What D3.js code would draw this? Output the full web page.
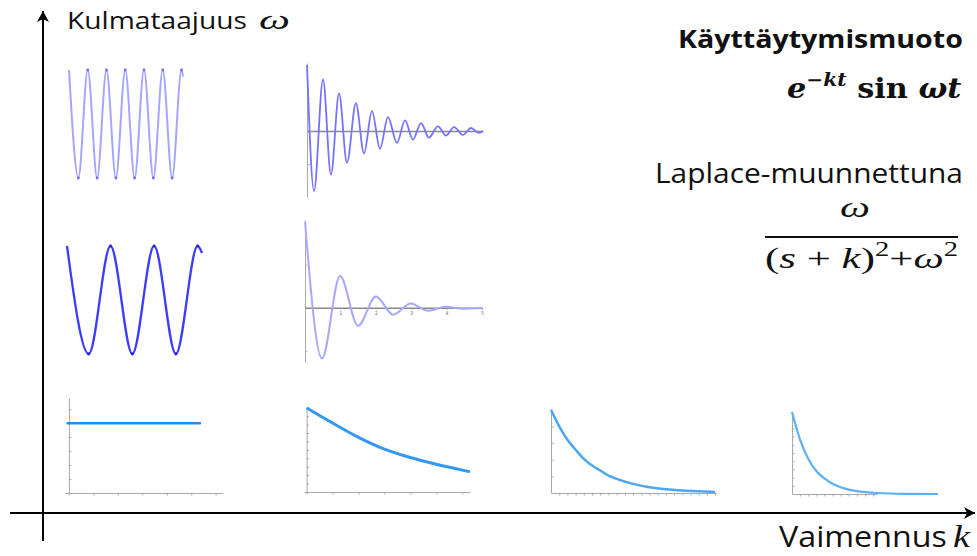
<!DOCTYPE html>
<html>
<head>
<meta charset="utf-8">
<script src="https://cdn.jsdelivr.net/npm/d3@7"></script>
<style>
  body { margin: 0; background: #fff; }
</style>
</head>
<body>
<div id="chart"></div>
<script>
// values (time, value)
// top row: fast oscillation, undamped and damped
var fastSineT = [0, 0.5, 1, 1.5, 2, 2.5, 3, 3.5, 4, 4.5, 5, 5.5, 6, 6.08];
var fastSineV = [1, -1, 1, -1, 1, -1, 1, -1, 1, -1, 1, -1, 1, 0.88];
var fastDampT = [0, 0.40, 0.91, 1.36, 1.82, 2.27, 2.78, 3.24, 3.69, 4.15, 4.60, 5.11, 5.57, 6.02, 6.48, 6.93, 7.44, 7.90, 8.35, 8.86, 9.32, 9.77, 10];
var fastDampV = [1.0, -0.91, 0.78, -0.66, 0.57, -0.48, 0.42, -0.34, 0.30, -0.27, 0.21, -0.18, 0.16, -0.13, 0.12, -0.10, 0.07, -0.07, 0.06, -0.06, 0.045, -0.03, 0];

// middle row: slow oscillation, undamped and damped
var slowSineT = [0, 0.5, 1, 1.5, 2, 2.5, 3, 3.1];
var slowSineV = [1, -1, 1, -1, 1, -1, 1, 0.87];
var slowDampT = [0, 0.48, 0.99, 1.50, 2.0, 2.49, 2.99, 3.47, 3.98, 4.46, 5];
var slowDampV = [1, -0.59, 0.37, -0.21, 0.13, -0.08, 0.05, -0.035, 0.012, -0.01, 0];
var slowDampTicks = [1, 2, 3, 4, 5];

// bottom row: no oscillation, growing damping
var constT = [-0.1, 5.4];
var constV = [5, 5];
var decaySlowT = [0, 1, 2, 3, 4, 5, 6, 6.3];
var decaySlowV = [10, 8.2, 6.5, 5.1, 4.1, 3.3, 2.6, 2.4];
var decayMidT = [0, 1, 2, 3, 4, 5, 6, 7, 8, 10, 12, 14, 16, 18, 20];
var decayMidV = [10, 8.0, 6.4, 5.2, 4.1, 3.3, 2.7, 2.1, 1.7, 1.1, 0.7, 0.45, 0.3, 0.2, 0.12];
var decayFastT = [0, 1, 2, 3, 4, 5, 6, 7, 8, 10, 12, 14, 18];
var decayFastV = [10, 6.6, 4.3, 2.8, 1.9, 1.25, 0.82, 0.54, 0.35, 0.15, 0.06, 0.02, 0];

function main() {

    var svg = d3.select("#chart")
        .append("svg")
        .attr("width", 977)
        .attr("height", 556);

    // arrow head for the two big axes
    svg.append("defs").append("marker")
        .attr("id", "arrow")
        .attr("viewBox", "-12 -7 14 14")
        .attr("refX", 0).attr("refY", 0)
        .attr("markerWidth", 14).attr("markerHeight", 14)
        .attr("markerUnits", "userSpaceOnUse")
        .attr("orient", "auto")
        .append("path")
        .attr("d", "M0,0 L-11,-6 L-8,0 L-11,6 Z")
        .attr("fill", "#000");

    // layout of each small plot
    var panels = [
        { t: fastSineT, v: fastSineV, xr: [69, 183], xd: [0, 6.08], yr: [178, 70], yd: [-1, 1], color: "#a6a6ff", w: 2, dots: "#6a6aff" },
        { t: fastDampT, v: fastDampV, xr: [307, 483], xd: [0, 10], yr: [197, 63], yd: [-1, 1.03], color: "#7373ff", w: 1.8,
          zero: true, yTicks: [-0.5, 0.5] },
        { t: slowSineT, v: slowSineV, xr: [67, 202], xd: [0, 3.1], yr: [354, 246], yd: [-1, 1], color: "#3c3cff", w: 2.3, dots: "#2222dd" },
        { t: slowDampT, v: slowDampV, xr: [305, 482], xd: [0, 5], yr: [362, 220], yd: [-0.63, 1.02], color: "#a8a8ff", w: 2,
          zero: true, yTicks: [-0.5, 0.5], xTicks: slowDampTicks },
        { t: constT, v: constV, xr: [65, 223], xd: [-0.16, 6.3], yr: [493, 398], yd: [0, 6.8], color: "#2a8cf0", w: 2.5,
          box: true, xTicks: [0, 1, 2, 3, 4, 5, 6], yTicks: [1, 2, 3, 4, 5, 6] },
        { t: decaySlowT, v: decaySlowV, xr: [304, 470], xd: [-0.1, 6.3], yr: [492, 407], yd: [0, 10.1], color: "#3497f2", w: 3,
          box: true, xTicks: [0, 1, 2, 3, 4, 5, 6], yTicks: [1, 2, 3, 4, 5, 6, 7, 8, 9] },
        { t: decayMidT, v: decayMidV, xr: [551, 716], xd: [0, 20.1], yr: [493, 409], yd: [0, 10.1], color: "#4ba6f6", w: 2.5,
          box: true, xTicks: d3.range(1, 21), yTicks: [2, 4, 6, 8] },
        { t: decayFastT, v: decayFastV, xr: [792, 938], xd: [0, 18], yr: [494, 412], yd: [0, 10], color: "#5cb0f6", w: 2.2,
          box: true, axisEnd: 10.5, xTicks: d3.range(1, 11), yTicks: d3.range(1, 10) }
    ];

    panels.forEach(function (p) {
        var x = d3.scaleLinear().domain(p.xd).range(p.xr);
        var y = d3.scaleLinear().domain(p.yd).range(p.yr);
        var g = svg.append("g");

        // faint axes of the small plots
        if (p.box) {
            var xa = p.axisEnd ? x.copy().domain([0, p.axisEnd]).range([x(0), x(p.axisEnd)]) : x;
            g.append("g")
                .attr("class", "mini")
                .attr("transform", "translate(0," + y(0) + ")")
                .call(d3.axisBottom(xa).tickValues(p.xTicks).tickSize(2.5).tickSizeOuter(0).tickFormat(""));
            g.append("g")
                .attr("class", "mini")
                .attr("transform", "translate(" + x(0) + ",0)")
                .call(d3.axisLeft(y).tickValues(p.yTicks).tickSize(-2.5).tickSizeOuter(0).tickFormat(""));
        }
        if (p.zero) {
            g.append("g")
                .attr("class", "mini")
                .attr("transform", "translate(" + x(0) + ",0)")
                .call(d3.axisLeft(y).tickValues(p.yTicks).tickSize(-2.5).tickSizeOuter(0).tickFormat(""));
            var za = g.append("g")
                .attr("class", "zero")
                .attr("transform", "translate(0," + y(0) + ")")
                .call(d3.axisBottom(x).tickValues(p.xTicks || []).tickSize(2).tickSizeOuter(0)
                    .tickPadding(2).tickFormat(d3.format("d")));
            za.selectAll("text").style("font-size", "5px").attr("fill", "#777").attr("font-family", "DejaVu Sans");
        }

        var pts = d3.zip(p.t, p.v);
        var line = d3.line()
            .x(function (d) { return x(d[0]); })
            .y(function (d) { return y(d[1]); })
            .curve(d3.curveMonotoneX);

        g.append("path")
            .datum(pts)
            .attr("d", line)
            .attr("fill", "none")
            .attr("stroke", p.color)
            .attr("stroke-width", p.w)
            .attr("stroke-linejoin", "round");

        // little dots the plotting program left on the peaks
        if (p.dots) {
            g.selectAll("circle")
                .data(pts.slice(1, -1))
                .enter()
                .append("circle")
                .attr("cx", function (d) { return x(d[0]); })
                .attr("cy", function (d) { return y(d[1]); })
                .attr("r", 1.4)
                .attr("fill", p.dots);
        }
    });

    svg.selectAll(".mini path, .mini line").attr("stroke", "#a9a9a9").attr("stroke-width", 1);
    svg.selectAll(".zero path").attr("stroke", "#8a8a8a").attr("stroke-width", 1.5);
    svg.selectAll(".zero line").attr("stroke", "#999").attr("stroke-width", 0.8);

    // the two big axes
    svg.append("line")
        .attr("x1", 43).attr("y1", 541).attr("x2", 43).attr("y2", 11)
        .attr("stroke", "#000").attr("stroke-width", 2)
        .attr("marker-end", "url(#arrow)");
    svg.append("line")
        .attr("x1", 10).attr("y1", 513).attr("x2", 975).attr("y2", 513)
        .attr("stroke", "#000").attr("stroke-width", 2)
        .attr("marker-end", "url(#arrow)");

    // squeeze / stretch a text so it covers [left, right]
    function fit(sel, left, right) {
        var b = sel.node().getBBox();
        var k = (right - left) / b.width;
        sel.attr("transform", "translate(" + left + ",0) scale(" + k + ",1) translate(" + (-b.x) + ",0)");
    }

    var sans = "'Open Sans', 'DejaVu Sans', sans-serif";
    var serif = "'DejaVu Serif', serif";
    var thin = "'Liberation Serif', serif";

    var t1 = svg.append("text").attr("x", 0).attr("y", 29).attr("font-family", sans).attr("font-size", 24)
        .attr("fill", "#111").text("Kulmataajuus");
    fit(t1, 67, 247);
    var t2 = svg.append("text").attr("x", 0).attr("y", 29).attr("font-family", thin).attr("font-style", "italic")
        .attr("font-size", 28).attr("fill", "#111").text("ω");
    fit(t2, 259, 290);

    var t3 = svg.append("text").attr("x", 0).attr("y", 547).attr("font-family", sans).attr("font-size", 30)
        .attr("fill", "#111").text("Vaimennus");
    fit(t3, 779, 947);
    var t4 = svg.append("text").attr("x", 0).attr("y", 547).attr("font-family", thin).attr("font-style", "italic")
        .attr("font-size", 32).attr("fill", "#111").text("k");
    fit(t4, 953, 971);

    var t5 = svg.append("text").attr("x", 0).attr("y", 48).attr("font-family", sans).attr("font-weight", "bold")
        .attr("font-size", 25).attr("fill", "#111").text("Käyttäytymismuoto");
    fit(t5, 678, 963);

    var f1 = svg.append("text").attr("x", 0).attr("y", 98).attr("font-family", serif).attr("font-weight", "bold")
        .attr("font-size", 27).attr("fill", "#111");
    f1.append("tspan").attr("font-style", "italic").text("e");
    f1.append("tspan").attr("font-style", "italic").attr("font-size", 18).attr("dy", -12).text("−kt");
    f1.append("tspan").attr("dy", 12).text(" sin ");
    f1.append("tspan").attr("font-style", "italic").text("ωt");
    fit(f1, 787, 962);

    var t6 = svg.append("text").attr("x", 0).attr("y", 183).attr("font-family", sans).attr("font-size", 28)
        .attr("fill", "#111").text("Laplace-muunnettuna");
    fit(t6, 655, 963);

    var f2 = svg.append("text").attr("x", 0).attr("y", 217).attr("font-family", thin).attr("font-style", "italic")
        .attr("font-size", 30).attr("fill", "#111").text("ω");
    fit(f2, 840, 870);

    svg.append("line")
        .attr("x1", 765).attr("x2", 958).attr("y1", 237).attr("y2", 237)
        .attr("stroke", "#111").attr("stroke-width", 2);

    var f3 = svg.append("text").attr("x", 0).attr("y", 268).attr("font-family", thin)
        .attr("font-size", 30).attr("fill", "#111");
    f3.append("tspan").text("(");
    f3.append("tspan").attr("font-style", "italic").text("s");
    f3.append("tspan").text(" + ");
    f3.append("tspan").attr("font-style", "italic").text("k");
    f3.append("tspan").text(")");
    f3.append("tspan").attr("font-size", 20).attr("dy", -12).text("2");
    f3.append("tspan").attr("dy", 12).text("+");
    f3.append("tspan").attr("font-style", "italic").text("ω");
    f3.append("tspan").attr("font-size", 20).attr("dy", -12).text("2");
    fit(f3, 765, 958);
}
window.addEventListener('load', main);
</script>
</body>
</html>
